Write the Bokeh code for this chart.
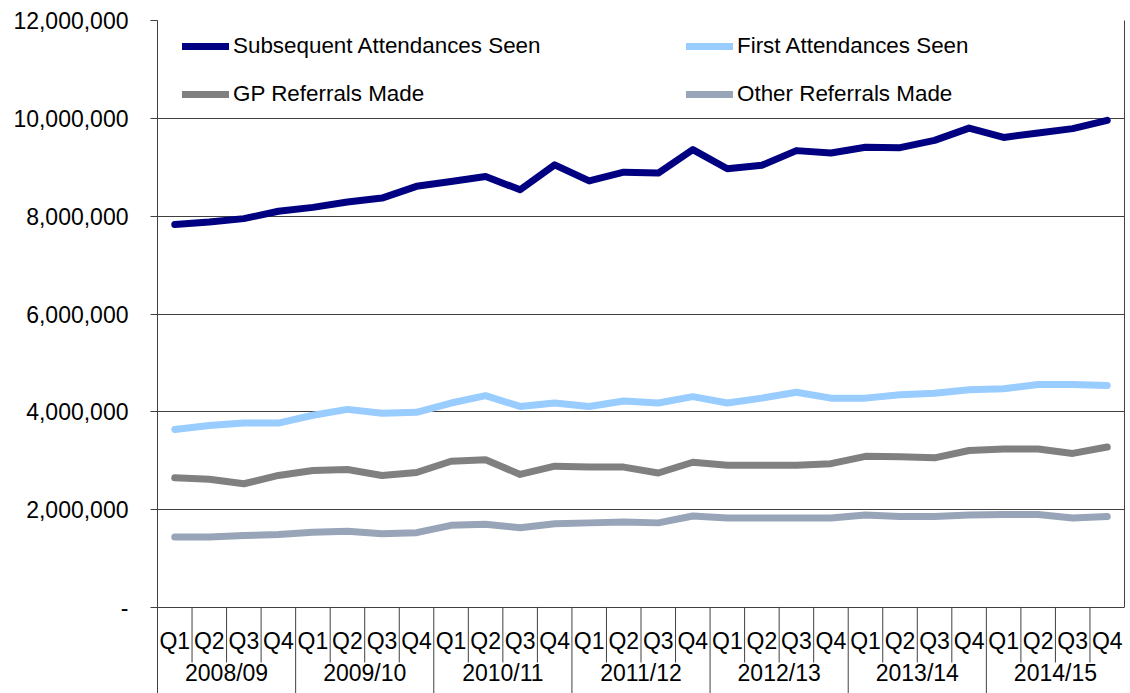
from bokeh.plotting import figure
from bokeh.models import Range1d, FixedTicker, LinearAxis, Legend, LegendItem
from bokeh.core.properties import value
from bokeh.embed import file_html
from bokeh.resources import INLINE

# ---------------- data ----------------
years = ["2008/09", "2009/10", "2010/11", "2011/12", "2012/13", "2013/14", "2014/15"]
quarters = ["Q1", "Q2", "Q3", "Q4"]

subsequent = [7830000, 7880000, 7950000, 8100000, 8180000, 8290000, 8370000, 8610000,
              8710000, 8810000, 8540000, 9050000, 8720000, 8900000, 8880000, 9360000,
              8970000, 9040000, 9340000, 9290000, 9410000, 9400000, 9550000, 9800000,
              9610000, 9700000, 9790000, 9960000]
first = [3640000, 3720000, 3770000, 3770000, 3930000, 4050000, 3970000, 3990000,
         4180000, 4330000, 4110000, 4180000, 4110000, 4220000, 4180000, 4310000,
         4180000, 4280000, 4400000, 4280000, 4280000, 4350000, 4380000, 4450000,
         4470000, 4560000, 4560000, 4540000]
gp = [2650000, 2620000, 2530000, 2700000, 2800000, 2820000, 2700000, 2760000,
      2990000, 3020000, 2720000, 2890000, 2870000, 2870000, 2750000, 2970000,
      2910000, 2910000, 2910000, 2940000, 3090000, 3080000, 3060000, 3210000,
      3240000, 3240000, 3150000, 3280000]
other = [1440000, 1440000, 1470000, 1490000, 1540000, 1560000, 1510000, 1530000,
         1680000, 1700000, 1630000, 1710000, 1730000, 1750000, 1730000, 1870000,
         1830000, 1830000, 1830000, 1830000, 1890000, 1860000, 1860000, 1890000,
         1900000, 1900000, 1830000, 1860000]

series_names = ["Subsequent Attendances Seen", "First Attendances Seen",
                "GP Referrals Made", "Other Referrals Made"]
series_colors = ["#000080", "#99CCFF", "#808080", "#98A5B8"]

y_ticks = [0, 2000000, 4000000, 6000000, 8000000, 10000000, 12000000]
y_tick_labels = ["-", "2,000,000", "4,000,000", "6,000,000", "8,000,000",
                 "10,000,000", "12,000,000"]

# ---------------- layout ----------------
FONT = "Liberation Sans"
LINE = "#404040"
W, H = 1130, 693
LEFT, TOP, RIGHT, BOTTOM = 157, 20, 6, 0
frame_h = H - TOP - BOTTOM
zero_px = 587                      # pixels from frame top to the 0 line
y_max = y_ticks[-1]
per_px = y_max / zero_px
y_min = -(frame_h - zero_px) * per_px

cats = [(y, q) for y in years for q in quarters]
n = len(cats)
xs = [i + 0.5 for i in range(n)]

p = figure(width=W, height=H, output_backend="svg", toolbar_location=None,
           x_range=Range1d(0, n), y_range=Range1d(y_min, y_max),
           x_axis_location=None,
           min_border_left=LEFT, min_border_right=RIGHT,
           min_border_top=TOP, min_border_bottom=BOTTOM)
p.outline_line_color = None
p.background_fill_color = "white"
p.border_fill_color = "white"
p.xgrid.visible = False

yt = FixedTicker(ticks=y_ticks, minor_ticks=[])
ax = p.yaxis[0]
ax.ticker = yt
ax.major_label_overrides = dict(zip(y_ticks, y_tick_labels))
ax.major_tick_out = 7
ax.major_tick_in = 0
ax.minor_tick_line_color = None
ax.axis_line_color = LINE
ax.major_tick_line_color = LINE
ax.major_label_standoff = 22
ax.major_label_text_font = FONT
ax.major_label_text_font_size = "23px"
ax.major_label_text_color = "black"

p.ygrid.ticker = yt
p.ygrid.grid_line_color = LINE
p.ygrid.grid_line_width = 1

# right border of the plot area
rax = LinearAxis(bounds=(0, y_max), ticker=FixedTicker(ticks=[]),
                 major_label_text_font_size="0px", major_tick_out=0, major_tick_in=0,
                 minor_tick_out=0, minor_tick_in=0, major_label_standoff=0,
                 axis_line_color=LINE)
p.add_layout(rax, "right")

# category axis: separators and labels
q_sep_bottom = -55 * per_px
y_sep_bottom = y_min
qb = [i for i in range(1, n) if i % len(quarters) != 0]
yb = [i for i in range(len(quarters), n, len(quarters))]
p.segment(x0=qb, y0=[0] * len(qb), x1=qb, y1=[q_sep_bottom] * len(qb),
          line_color=LINE, line_width=1)
p.segment(x0=yb, y0=[0] * len(yb), x1=yb, y1=[y_sep_bottom] * len(yb),
          line_color=LINE, line_width=1)

p.text(x=xs, y=[-33 * per_px] * n, text=[c[1] for c in cats],
       text_font=value(FONT), text_font_size=value("23px"), text_color="black",
       text_align="center", text_baseline="middle")
yx = [len(quarters) * k + len(quarters) / 2 for k in range(len(years))]
p.text(x=yx, y=[-65 * per_px] * len(years), text=years,
       text_font=value(FONT), text_font_size=value("23px"), text_color="black",
       text_align="center", text_baseline="middle")

# series
renderers = []
for vals, col in zip([subsequent, first, gp, other], series_colors):
    r = p.line(xs, vals, line_color=col, line_width=7, line_join="round", line_cap="round")
    renderers.append(r)

def make_legend(idx, x):
    lg = Legend(items=[LegendItem(label=series_names[i], renderers=[renderers[i]]) for i in idx],
                location=(x, 586), orientation="vertical",
                glyph_width=47, glyph_height=24, label_height=24, label_standoff=4,
                spacing=22, padding=0, margin=0, border_line_color=None,
                background_fill_alpha=0,
                label_text_font=FONT, label_text_font_size="22.4px",
                label_text_color="black", label_text_baseline="middle")
    return lg

p.add_layout(make_legend([0, 2], 25))
p.add_layout(make_legend([1, 3], 529))

open("out.html", "w").write(file_html(p, INLINE))
